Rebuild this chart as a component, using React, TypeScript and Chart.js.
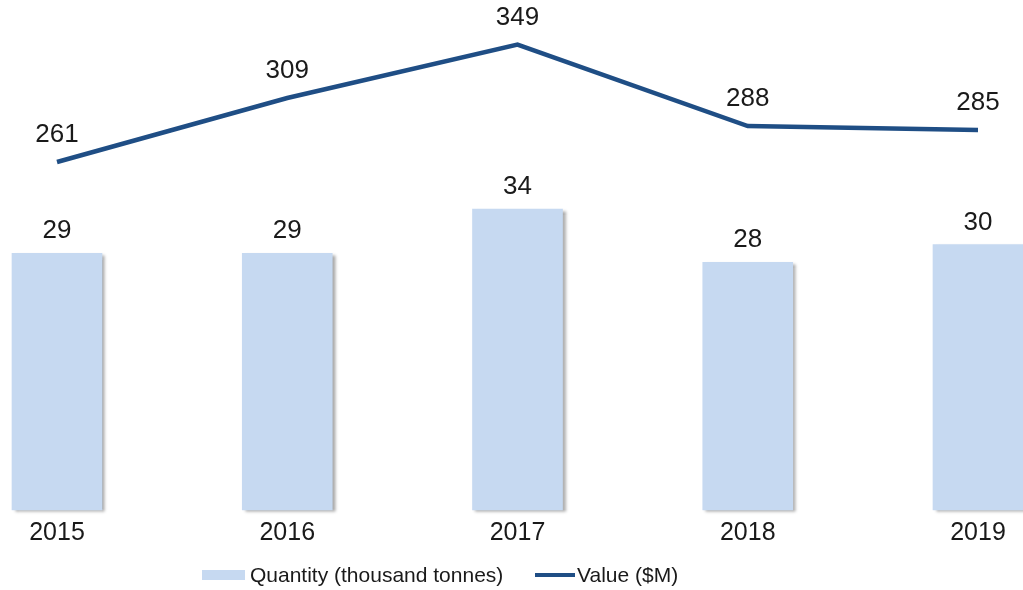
import React, { useEffect, useRef } from 'react';
import { Chart, registerables } from 'chart.js';

Chart.register(...registerables);

const years = ['2015', '2016', '2017', '2018', '2019'];
const quantity = [29, 29, 34, 28, 30];
const valueM = [261, 309, 349, 288, 285];
const seriesNames = ['Quantity (thousand tonnes)', 'Value ($M)'];

const BAR_COLOR = '#c6d9f1';
const LINE_COLOR = '#1f4e85';
const TEXT_COLOR = '#1a1a1a';
const FONT = '"Liberation Sans", Arial, sans-serif';

const barShadow = {
  id: 'barShadow',
  beforeDatasetDraw(chart: any, args: any) {
    if (args.index !== 0) return;
    const ctx = chart.ctx;
    ctx.save();
    ctx.shadowColor = 'rgba(0,0,0,0.35)';
    ctx.shadowOffsetX = 3;
    ctx.shadowOffsetY = 2;
    ctx.shadowBlur = 3;
  },
  afterDatasetDraw(chart: any, args: any) {
    if (args.index !== 0) return;
    chart.ctx.restore();
  },
};

const valueLabels = {
  id: 'valueLabels',
  afterDatasetsDraw(chart: any) {
    const ctx = chart.ctx;
    ctx.save();
    ctx.font = `26px ${FONT}`;
    ctx.fillStyle = TEXT_COLOR;
    ctx.textAlign = 'center';
    ctx.textBaseline = 'alphabetic';
    chart.data.datasets.forEach((ds: any, i: number) => {
      const meta = chart.getDatasetMeta(i);
      const off = ds.type === 'bar' ? 15 : 20;
      meta.data.forEach((el: any, j: number) => {
        ctx.fillText(String(ds.data[j]), el.x, el.y - off);
      });
    });
    ctx.restore();
  },
};

export default function App() {
  const canvasRef = useRef<HTMLCanvasElement | null>(null);

  useEffect(() => {
    if (!canvasRef.current) return;
    const chart = new Chart(canvasRef.current, {
      type: 'bar',
      data: {
        labels: years,
        datasets: [
          {
            type: 'bar',
            label: seriesNames[0],
            data: quantity,
            backgroundColor: BAR_COLOR,
            borderWidth: 0,
            barThickness: 90,
            yAxisID: 'yBar',
            clip: false,
            order: 2,
          } as any,
          {
            type: 'line',
            label: seriesNames[1],
            data: valueM,
            borderColor: LINE_COLOR,
            backgroundColor: LINE_COLOR,
            borderWidth: 4.5,
            pointRadius: 0,
            tension: 0,
            yAxisID: 'yLine',
            clip: false,
            order: 1,
          } as any,
        ],
      },
      options: {
        animation: false,
        responsive: true,
        maintainAspectRatio: false,
        layout: { padding: { left: 57, right: 45, top: 10, bottom: 40 } },
        scales: {
          x: {
            offset: false,
            grid: { display: false, drawTicks: false },
            border: { display: false },
            ticks: {
              font: { family: FONT, size: 25 },
              color: TEXT_COLOR,
              padding: 8,
              maxRotation: 0,
              autoSkip: false,
            },
            afterFit(scale: any) {
              scale.height = 40;
            },
          },
          yBar: { display: false, min: 0, max: 56.5 },
          yLine: { display: false, min: 0, max: 375 },
        },
        plugins: {
          legend: { display: false },
          tooltip: { enabled: false },
        },
      } as any,
      plugins: [barShadow, valueLabels],
    });
    return () => chart.destroy();
  }, []);

  const legendText: React.CSSProperties = {
    fontFamily: FONT,
    fontSize: 21,
    color: TEXT_COLOR,
    whiteSpace: 'nowrap',
  };

  return (
    <div style={{ position: 'fixed', left: 0, top: 0, width: 1023, height: 590, background: '#fff' }}>
      <canvas ref={canvasRef} />
      <div style={{ position: 'absolute', left: 202, top: 560, height: 30, display: 'flex', alignItems: 'center' }}>
        <span style={{ display: 'inline-block', width: 43, height: 10, background: BAR_COLOR, marginRight: 5 }} />
        <span style={legendText}>{seriesNames[0]}</span>
      </div>
      <div style={{ position: 'absolute', left: 535, top: 560, height: 30, display: 'flex', alignItems: 'center' }}>
        <span style={{ display: 'inline-block', width: 40, height: 4, background: LINE_COLOR, marginRight: 2 }} />
        <span style={legendText}>{seriesNames[1]}</span>
      </div>
    </div>
  );
}
